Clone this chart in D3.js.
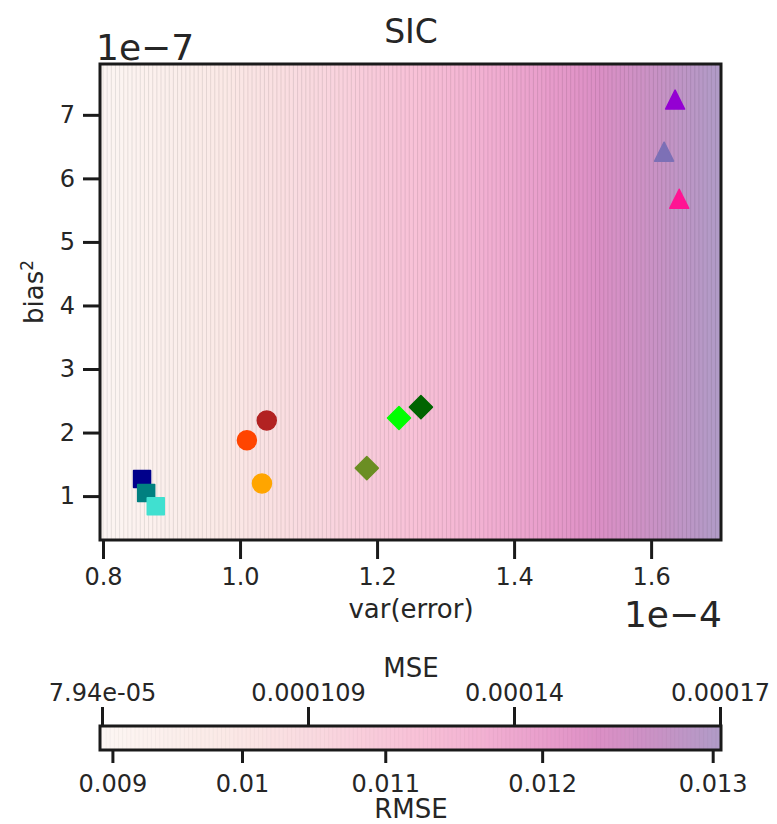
<!DOCTYPE html>
<html>
<head>
<meta charset="utf-8">
<script src="https://cdn.jsdelivr.net/npm/d3@7"></script>
<style>
  html, body { margin: 0; padding: 0; background: #ffffff; }
  svg { display: block; font-family: "DejaVu Sans", sans-serif; }
</style>
</head>
<body>
<svg id="chart" width="777" height="824"></svg>
<script>
// ---------------- data ----------------
// var(error) in units of 1e-4, bias^2 in units of 1e-7
const varError = [0.857, 0.863, 0.877, 1.039, 1.010, 1.032, 1.264, 1.232, 1.185, 1.635, 1.619, 1.641];
const bias2    = [1.27, 1.05, 0.84, 2.19, 1.88, 1.20, 2.40, 2.23, 1.44, 7.24, 6.42, 5.68];
const markerColors = ["#00008b", "#008080", "#40e0d0",
                      "#b22222", "#ff4500", "#ffa500",
                      "#006400", "#00ff00", "#6b8e23",
                      "#9400d3", "#7d70b6", "#ff1493"];
const markerShapes = ["square", "square", "square",
                      "circle", "circle", "circle",
                      "diamond", "diamond", "diamond",
                      "triangle", "triangle", "triangle"];

const xTicks = [0.8, 1.0, 1.2, 1.4, 1.6];
const yTicks = [1, 2, 3, 4, 5, 6, 7];
const xDomain = [0.7956, 1.702];
const yDomain = [0.309, 7.80];

// colour bar (MSE in units of 1e-4)
const mseRange = [0.794, 1.700];
const mseTickValues = [0.794, 1.096, 1.398, 1.700];
const mseTickLabels = ["7.94e-05", "0.000109", "0.00014", "0.00017"];
const rmseTickValues = [0.009, 0.010, 0.011, 0.012, 0.013];
const rmseTickLabels = ["0.009", "0.01", "0.011", "0.012", "0.013"];
const nLevels = 150;

// colormap stops
const cmapStops = [0.00, 0.20, 0.35, 0.50, 0.62, 0.72, 0.80, 0.90, 1.00];
const cmapColors = ["#fcf6f3", "#fbe9e6", "#f9d8df", "#f8c2d7", "#f2b0d2", "#e89dcb", "#dc8fc5", "#c892c5", "#b09bc7"];

// ---------------- layout ----------------
const svg = d3.select("#chart");
const plot = { left: 100, right: 721, top: 64, bottom: 540 };
const cb = { left: 100, right: 721, top: 726, bottom: 750 };

const x = d3.scaleLinear().domain(xDomain).range([plot.left, plot.right]);
const y = d3.scaleLinear().domain(yDomain).range([plot.bottom, plot.top]);
const cmap = d3.scaleLinear().domain(cmapStops).range(cmapColors).interpolate(d3.interpolateRgb);
const mseFrac = d3.scaleLinear().domain(mseRange).range([0, 1]);

const levels = d3.range(nLevels + 1).map(i => mseRange[0] + (mseRange[1] - mseRange[0]) * i / nLevels);
const bands = d3.range(nLevels).map(i => ({ lo: levels[i], hi: levels[i + 1] }));

// ---------------- background (MSE = var + bias^2) ----------------
const defs = svg.append("defs");
defs.append("clipPath").attr("id", "plotclip")
  .append("rect").attr("x", plot.left).attr("y", plot.top)
  .attr("width", plot.right - plot.left).attr("height", plot.bottom - plot.top);

const bg = svg.append("g").attr("clip-path", "url(#plotclip)");
bg.selectAll("rect.band").data(bands).join("rect")
  .attr("class", "band")
  .attr("x", d => x(d.lo))
  .attr("y", plot.top)
  .attr("width", d => x(d.hi) - x(d.lo) + 0.6)
  .attr("height", plot.bottom - plot.top)
  .attr("fill", d => cmap(mseFrac((d.lo + d.hi) / 2)));
bg.selectAll("line.seam").data(levels.slice(1, -1)).join("line")
  .attr("class", "seam")
  .attr("x1", d => x(d)).attr("x2", d => x(d))
  .attr("y1", plot.top).attr("y2", plot.bottom)
  .attr("stroke", d => d3.color(cmap(mseFrac(d))).darker(0.6))
  .attr("stroke-width", 0.8)
  .attr("stroke-opacity", 0.6);

// ---------------- markers ----------------
const s = 8.5;
function shapePath(shape) {
  if (shape === "square") return `M${-s},${-s}L${s},${-s}L${s},${s}L${-s},${s}Z`;
  if (shape === "diamond") { const d = 11.5; return `M0,${-d}L${d},0L0,${d}L${-d},0Z`; }
  if (shape === "triangle") { const h = 9.5; return `M0,${-h}L${h},${h}L${-h},${h}Z`; }
  const r = 9.5;
  return `M${r},0A${r},${r} 0 1,1 ${-r},0A${r},${r} 0 1,1 ${r},0Z`;
}
const pts = varError.map((v, i) => ({ v, b: bias2[i], c: markerColors[i], shape: markerShapes[i] }));
svg.append("g").selectAll("path").data(pts).join("path")
  .attr("transform", d => `translate(${x(d.v)},${y(d.b)})`)
  .attr("d", d => shapePath(d.shape))
  .attr("fill", d => d.c)
  .attr("stroke", d => d.c)
  .attr("stroke-width", 1.5)
  .attr("stroke-linejoin", "round");

// ---------------- axes ----------------
const tickFont = 24;
const xAxis = d3.axisBottom(x).tickValues(xTicks).tickFormat(d3.format(".1f")).tickSize(19).tickPadding(9);
const gx = svg.append("g").attr("transform", `translate(0,${plot.bottom})`).call(xAxis);
const yAxis = d3.axisLeft(y).tickValues(yTicks).tickFormat(d3.format("d")).tickSize(17).tickPadding(8);
const gy = svg.append("g").attr("transform", `translate(${plot.left},0)`).call(yAxis);
[gx, gy].forEach(g => {
  g.select(".domain").remove();
  g.selectAll(".tick line").attr("stroke", "#1a1a1a").attr("stroke-width", 3);
  g.selectAll(".tick text").attr("fill", "#262626").attr("font-size", tickFont)
    .attr("font-family", "DejaVu Sans, sans-serif");
});

svg.append("rect")
  .attr("x", plot.left).attr("y", plot.top)
  .attr("width", plot.right - plot.left).attr("height", plot.bottom - plot.top)
  .attr("fill", "none").attr("stroke", "#1a1a1a").attr("stroke-width", 3);

// titles and labels
svg.append("text").attr("x", 411).attr("y", 43).attr("text-anchor", "middle")
  .attr("font-size", 33).attr("fill", "#262626").text("SIC");
svg.append("text").attr("x", 96).attr("y", 60).attr("text-anchor", "start")
  .attr("font-size", 36).attr("fill", "#262626").text("1e\u22127");
svg.append("text").attr("x", 722).attr("y", 627).attr("text-anchor", "end")
  .attr("font-size", 36).attr("fill", "#262626").text("1e\u22124");
svg.append("text").attr("x", 411).attr("y", 618).attr("text-anchor", "middle")
  .attr("font-size", 26).attr("fill", "#262626").text("var(error)");
const bl = svg.append("text").attr("transform", "translate(43,292) rotate(-90)")
  .attr("text-anchor", "middle").attr("font-size", 26).attr("fill", "#262626");
bl.append("tspan").text("bias");
bl.append("tspan").attr("font-size", 17).attr("dy", -10).text("2");

// ---------------- colour bar ----------------
const cbx = d3.scaleLinear().domain(mseRange).range([cb.left + 2, cb.right - 1]);
defs.append("clipPath").attr("id", "cbclip")
  .append("rect").attr("x", cb.left).attr("y", cb.top)
  .attr("width", cb.right - cb.left).attr("height", cb.bottom - cb.top);
const cbg = svg.append("g").attr("clip-path", "url(#cbclip)");
cbg.selectAll("rect").data(bands).join("rect")
  .attr("x", (d, i) => i === 0 ? cb.left : cbx(d.lo))
  .attr("y", cb.top)
  .attr("width", (d, i) => (i === nLevels - 1 ? cb.right : cbx(d.hi) + 0.6) - (i === 0 ? cb.left : cbx(d.lo)))
  .attr("height", cb.bottom - cb.top)
  .attr("fill", d => cmap(mseFrac((d.lo + d.hi) / 2)));
cbg.selectAll("line").data(levels.slice(1, -1)).join("line")
  .attr("x1", d => cbx(d)).attr("x2", d => cbx(d))
  .attr("y1", cb.top).attr("y2", cb.bottom)
  .attr("stroke", d => d3.color(cmap(mseFrac(d))).darker(0.4))
  .attr("stroke-width", 0.6)
  .attr("stroke-opacity", 0.35);

const topAxis = d3.axisTop(cbx).tickValues(mseTickValues)
  .tickFormat((d, i) => mseTickLabels[i]).tickSize(19).tickPadding(6);
const gt = svg.append("g").attr("transform", `translate(0,${cb.top})`).call(topAxis);
const gb = svg.append("g").attr("transform", `translate(0,${cb.bottom})`);
gb.selectAll("g.tick").data(rmseTickValues).join("g")
  .attr("class", "tick")
  .attr("transform", d => `translate(${cbx(d * d * 1e4)},0)`)
  .each(function (d, i) {
    const g = d3.select(this);
    g.append("line").attr("y1", 0).attr("y2", 13);
    g.append("text").attr("y", 42).attr("text-anchor", "middle").text(rmseTickLabels[i]);
  });
[gt, gb].forEach(g => {
  g.select(".domain").remove();
  g.selectAll(".tick line").attr("stroke", "#1a1a1a").attr("stroke-width", 3);
  g.selectAll(".tick text").attr("fill", "#262626").attr("font-size", tickFont)
    .attr("font-family", "DejaVu Sans, sans-serif");
});
svg.append("rect")
  .attr("x", cb.left).attr("y", cb.top)
  .attr("width", cb.right - cb.left).attr("height", cb.bottom - cb.top)
  .attr("fill", "none").attr("stroke", "#1a1a1a").attr("stroke-width", 3);

svg.append("text").attr("x", 411).attr("y", 677).attr("text-anchor", "middle")
  .attr("font-size", 26).attr("fill", "#262626").text("MSE");
svg.append("text").attr("x", 411).attr("y", 818).attr("text-anchor", "middle")
  .attr("font-size", 26).attr("fill", "#262626").text("RMSE");
</script>
</body>
</html>
